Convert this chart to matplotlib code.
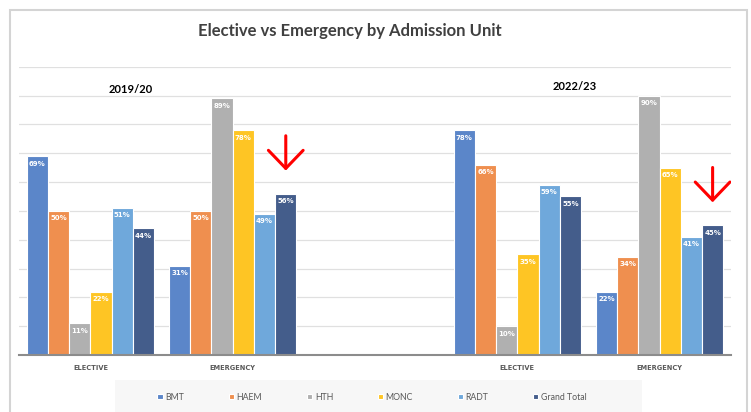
import numpy as np
import matplotlib
matplotlib.use("Agg")
import matplotlib.pyplot as plt
from matplotlib.patches import Rectangle, FancyArrowPatch, ArrowStyle

plt.rcParams['font.family'] = ['Lato', 'DejaVu Sans']

# data
categories = ["ELECTIVE", "EMERGENCY", "", "ELECTIVE", "EMERGENCY"]
group_pos = [0, 1, 3, 4]          # category slots holding bars (slot 2 is the gap)
units = ["BMT", "HAEM", "HTH", "MONC", "RADT", "Grand Total"]
bmt = [0.69, 0.31, 0.78, 0.22]
haem = [0.50, 0.50, 0.66, 0.34]
hth = [0.11, 0.89, 0.10, 0.90]
monc = [0.22, 0.78, 0.35, 0.65]
radt = [0.51, 0.49, 0.59, 0.41]
grand_total = [0.44, 0.56, 0.55, 0.45]
periods = ["2019/20", "2022/23"]

series = [bmt, haem, hth, monc, radt, grand_total]
colors = ["#5b86c9", "#ef8f4f", "#b0b0b0", "#fec524", "#6fa8db", "#445d8b"]

W, H = 751, 412
fig = plt.figure(figsize=(W / 100, H / 100), dpi=100)
ax = fig.add_axes([19.3 / W, 1 - 355 / H, (730.7 - 19.3) / W, (355 - 66.7) / H])

n = len(units)
group_w = 0.895
bw = group_w / n
x = np.array(group_pos, dtype=float)
bars = []
for i, (vals, c) in enumerate(zip(series, colors)):
    xs = x - group_w / 2 + bw * (i + 0.5)
    b = ax.bar(xs, vals, bw, color=c, edgecolor="white", linewidth=0.8, zorder=3, label=units[i])
    bars.append(b)
    for xi, v in zip(xs, vals):
        ax.text(xi, v - 0.026, "%d%%" % round(v * 100), ha="center", va="center",
                color="white", fontsize=5.0, fontweight="bold", family="DejaVu Sans", zorder=4)

ax.set_xlim(-0.5, len(categories) - 0.5)
ax.set_ylim(0, 1.0)
ax.set_yticks(np.arange(0.1, 1.01, 0.1))
ax.yaxis.grid(True, color="#e0e0e0", linewidth=0.9, zorder=0)
ax.tick_params(axis="y", left=False, labelleft=False)
ax.set_xticks(range(len(categories)))
ax.set_xticklabels(categories, fontsize=4.8, fontweight="bold", color="#595959", family="DejaVu Sans")
ax.tick_params(axis="x", length=0, pad=7)
for s in ["top", "right", "left"]:
    ax.spines[s].set_visible(False)
ax.spines["bottom"].set_color("#8c8c8c")
ax.spines["bottom"].set_linewidth(1.5)
ax.spines["bottom"].set_zorder(6)
ax.set_facecolor("none")

# period labels above each pair of groups
ax.text(0.285, 0.922, periods[0], ha="center", va="center", fontsize=8, fontweight="bold", color="black")
ax.text(3.40, 0.930, periods[1], ha="center", va="center", fontsize=8, fontweight="bold", color="black")

# red arrows pointing at the emergency Grand Total bars
gt_x = x - group_w / 2 + bw * (n - 0.5)
for k in [1, 3]:
    tip = grand_total[k] + 0.07
    arr = FancyArrowPatch((gt_x[k], tip + 0.14), (gt_x[k], tip),
                          arrowstyle=ArrowStyle("->", head_length=13, head_width=12.5),
                          mutation_scale=1, color="red", lw=2.2, zorder=5)
    ax.add_patch(arr)

# title
fig.text(350 / W, 1 - 31 / H, "Elective vs Emergency by Admission Unit", ha="center", va="center",
         fontsize=12, fontweight="bold", color="#404040")

# outer chart frame
fig.patches.append(Rectangle((10 / W, -0.05), (746.5 - 10) / W, 1.05 - 10 / H, transform=fig.transFigure,
                             fill=False, edgecolor="#d4d4d4", linewidth=1.5))
# legend background
fig.patches.append(Rectangle((115 / W, 0), (642 - 115) / W, (412 - 380) / H, transform=fig.transFigure,
                             facecolor="#f7f7f7", edgecolor="none", zorder=0))
fig.legend(handles=bars, labels=units, loc="center", bbox_to_anchor=(372 / W, 1 - 397 / H), ncol=6,
           frameon=False, fontsize=6.3, handlelength=0.6, handleheight=0.6, handletextpad=0.3,
           columnspacing=5.1, labelcolor="#595959")

fig.savefig("out.png", dpi=100)
